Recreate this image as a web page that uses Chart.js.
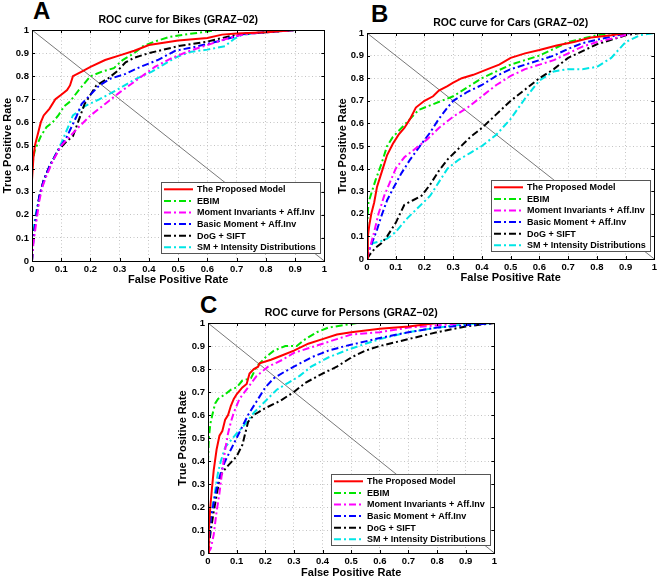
<!DOCTYPE html>
<html>
<head>
<meta charset="utf-8">
<script src="https://cdn.jsdelivr.net/npm/chart.js@4.4.1/dist/chart.umd.min.js"></script>
<style>
  body { margin: 0; background: #fff; width: 660px; height: 580px; position: relative; overflow: hidden;
         font-family: "Liberation Sans", Arial, sans-serif; }
  canvas { position: absolute; }
  .letter { position: absolute; font-weight: bold; font-size: 24px; line-height: 24px; color: #000; }
</style>
</head>
<body>
<div class="letter" style="left:33px; top:-1px">A</div>
<div class="letter" style="left:371px; top:2px">B</div>
<div class="letter" style="left:200px; top:293px">C</div>
<canvas id="bikes" width="330" height="290" style="left:0; top:0"></canvas>
<canvas id="cars" width="330" height="290" style="left:330px; top:0"></canvas>
<canvas id="persons" width="340" height="290" style="left:160px; top:290px"></canvas>
<script>
// legend names, same order in every panel
const seriesNames = ["The Proposed Model", "EBIM", "Moment Invariants + Aff.Inv",
    "Basic Moment + Aff.Inv", "DoG + SIFT", "SM + Intensity Distributions"];

// chance diagonal drawn in each panel
const chanceLine = [[0, 1], [1, 0]];

// ROC points [FPR, TPR]
const bikesProposed = [[0,0],[0,0.35],[0.005,0.45],[0.01,0.5],[0.02,0.55],[0.03,0.6],[0.04,0.63],[0.06,0.66],[0.08,0.7],[0.1,0.72],[0.12,0.74],[0.13,0.76],[0.14,0.8],[0.17,0.82],[0.2,0.84],[0.25,0.87],[0.3,0.89],[0.35,0.91],[0.4,0.935],[0.45,0.945],[0.5,0.955],[0.6,0.965],[0.65,0.98],[0.7,0.985],[0.8,0.99],[0.9,1],[1,1]];
const bikesEbim = [[0,0],[0,0.4],[0.005,0.45],[0.01,0.48],[0.02,0.51],[0.03,0.54],[0.05,0.58],[0.07,0.6],[0.09,0.63],[0.11,0.67],[0.13,0.69],[0.16,0.74],[0.2,0.8],[0.24,0.82],[0.28,0.835],[0.31,0.87],[0.35,0.9],[0.38,0.93],[0.42,0.95],[0.47,0.97],[0.52,0.98],[0.58,0.99],[0.63,1],[1,1]];
const bikesMoment = [[0,0],[0.005,0.08],[0.015,0.17],[0.025,0.26],[0.035,0.32],[0.05,0.37],[0.07,0.43],[0.1,0.5],[0.13,0.54],[0.16,0.58],[0.2,0.63],[0.25,0.68],[0.3,0.73],[0.36,0.785],[0.42,0.84],[0.48,0.88],[0.54,0.91],[0.6,0.935],[0.66,0.96],[0.7,0.975],[0.75,0.985],[0.8,0.99],[0.9,1],[1,1]];
const bikesBasic = [[0,0],[0.005,0.1],[0.015,0.2],[0.025,0.28],[0.04,0.35],[0.06,0.41],[0.09,0.48],[0.12,0.54],[0.15,0.62],[0.17,0.68],[0.2,0.72],[0.23,0.76],[0.27,0.79],[0.32,0.81],[0.37,0.84],[0.43,0.87],[0.49,0.91],[0.55,0.925],[0.6,0.94],[0.65,0.955],[0.69,0.97],[0.73,0.985],[0.8,0.99],[0.9,1],[1,1]];
const bikesDog = [[0,0],[0.005,0.1],[0.015,0.2],[0.025,0.28],[0.04,0.35],[0.06,0.41],[0.09,0.48],[0.12,0.52],[0.14,0.54],[0.16,0.61],[0.18,0.68],[0.2,0.72],[0.22,0.76],[0.26,0.79],[0.29,0.82],[0.32,0.86],[0.35,0.88],[0.4,0.9],[0.45,0.915],[0.5,0.93],[0.55,0.94],[0.6,0.95],[0.65,0.965],[0.7,0.98],[0.8,0.99],[0.9,1],[1,1]];
const bikesSm = [[0,0],[0.002,0.08],[0.005,0.14],[0.015,0.22],[0.03,0.3],[0.045,0.36],[0.06,0.41],[0.08,0.46],[0.1,0.51],[0.12,0.57],[0.14,0.63],[0.18,0.67],[0.23,0.7],[0.29,0.74],[0.35,0.785],[0.41,0.82],[0.45,0.85],[0.49,0.88],[0.54,0.905],[0.6,0.915],[0.66,0.93],[0.69,0.96],[0.72,0.98],[0.8,0.99],[0.9,1],[1,1]];

const carsProposed = [[0,0],[0.003,0.1],[0.008,0.15],[0.015,0.2],[0.025,0.25],[0.035,0.32],[0.045,0.36],[0.055,0.4],[0.07,0.46],[0.09,0.51],[0.11,0.55],[0.13,0.58],[0.15,0.62],[0.17,0.67],[0.2,0.7],[0.23,0.72],[0.25,0.745],[0.28,0.765],[0.3,0.78],[0.33,0.8],[0.37,0.815],[0.42,0.84],[0.46,0.86],[0.5,0.89],[0.55,0.91],[0.6,0.925],[0.66,0.945],[0.72,0.96],[0.78,0.98],[0.85,0.99],[0.9,1],[1,1]];
const carsEbim = [[0,0],[0,0.14],[0.005,0.25],[0.015,0.29],[0.03,0.35],[0.05,0.42],[0.07,0.5],[0.09,0.54],[0.12,0.58],[0.15,0.62],[0.18,0.66],[0.22,0.68],[0.26,0.7],[0.3,0.72],[0.35,0.76],[0.4,0.8],[0.45,0.83],[0.5,0.86],[0.55,0.88],[0.6,0.9],[0.65,0.93],[0.7,0.96],[0.75,0.975],[0.8,0.99],[0.85,1],[1,1]];
const carsMoment = [[0,0],[0.01,0.05],[0.025,0.12],[0.04,0.2],[0.06,0.28],[0.08,0.34],[0.1,0.4],[0.13,0.45],[0.17,0.49],[0.21,0.53],[0.25,0.58],[0.3,0.63],[0.35,0.67],[0.4,0.72],[0.45,0.77],[0.5,0.81],[0.55,0.84],[0.6,0.86],[0.65,0.88],[0.7,0.91],[0.75,0.94],[0.8,0.96],[0.87,0.98],[0.92,1],[1,1]];
const carsBasic = [[0,0],[0.005,0.03],[0.02,0.08],[0.035,0.13],[0.05,0.19],[0.07,0.26],[0.09,0.31],[0.12,0.38],[0.15,0.44],[0.19,0.51],[0.22,0.56],[0.25,0.62],[0.28,0.67],[0.3,0.7],[0.35,0.74],[0.4,0.77],[0.45,0.81],[0.5,0.84],[0.55,0.86],[0.6,0.88],[0.65,0.9],[0.7,0.93],[0.75,0.955],[0.8,0.97],[0.87,0.99],[0.92,1],[1,1]];
const carsDog = [[0,0],[0.01,0.02],[0.03,0.05],[0.05,0.07],[0.07,0.1],[0.1,0.16],[0.13,0.24],[0.16,0.26],[0.19,0.28],[0.22,0.33],[0.25,0.39],[0.28,0.44],[0.32,0.49],[0.36,0.54],[0.4,0.58],[0.45,0.64],[0.5,0.7],[0.55,0.75],[0.6,0.8],[0.65,0.84],[0.7,0.89],[0.75,0.92],[0.8,0.95],[0.85,0.97],[0.9,0.99],[0.95,1],[1,1]];
const carsSm = [[0,0],[0.005,0.04],[0.02,0.07],[0.05,0.08],[0.07,0.09],[0.1,0.12],[0.14,0.18],[0.18,0.23],[0.22,0.28],[0.25,0.34],[0.28,0.4],[0.32,0.44],[0.36,0.47],[0.4,0.5],[0.45,0.55],[0.5,0.62],[0.55,0.71],[0.6,0.79],[0.65,0.83],[0.7,0.84],[0.75,0.84],[0.8,0.85],[0.85,0.89],[0.9,0.96],[0.95,0.99],[1,1]];

const personsProposed = [[0,0],[0.003,0.1],[0.008,0.2],[0.013,0.27],[0.02,0.36],[0.03,0.45],[0.04,0.51],[0.05,0.53],[0.06,0.58],[0.07,0.6],[0.08,0.64],[0.09,0.67],[0.1,0.69],[0.12,0.72],[0.135,0.735],[0.145,0.78],[0.16,0.8],[0.175,0.81],[0.18,0.825],[0.22,0.84],[0.26,0.86],[0.3,0.88],[0.35,0.91],[0.4,0.93],[0.45,0.95],[0.5,0.96],[0.6,0.975],[0.7,0.985],[0.8,1],[1,1]];
const personsEbim = [[0,0],[0,0.4],[0.003,0.5],[0.008,0.56],[0.015,0.6],[0.025,0.65],[0.035,0.67],[0.06,0.69],[0.08,0.71],[0.1,0.72],[0.12,0.75],[0.15,0.76],[0.17,0.81],[0.2,0.85],[0.23,0.88],[0.27,0.9],[0.31,0.9],[0.34,0.93],[0.38,0.96],[0.42,0.98],[0.47,0.99],[0.52,1],[1,1]];
const personsMoment = [[0,0],[0.01,0.02],[0.02,0.08],[0.03,0.18],[0.04,0.26],[0.05,0.36],[0.06,0.45],[0.07,0.52],[0.08,0.57],[0.09,0.61],[0.11,0.67],[0.14,0.72],[0.17,0.77],[0.21,0.81],[0.26,0.84],[0.3,0.87],[0.35,0.89],[0.4,0.91],[0.45,0.93],[0.5,0.95],[0.6,0.96],[0.7,0.98],[0.8,0.99],[0.9,1],[1,1]];
const personsBasic = [[0,0],[0.005,0.08],[0.01,0.15],[0.02,0.22],[0.03,0.28],[0.045,0.35],[0.06,0.4],[0.08,0.45],[0.1,0.5],[0.12,0.55],[0.14,0.6],[0.17,0.66],[0.2,0.72],[0.23,0.76],[0.27,0.79],[0.3,0.81],[0.36,0.85],[0.42,0.88],[0.48,0.9],[0.55,0.92],[0.6,0.935],[0.7,0.96],[0.8,0.98],[0.9,0.99],[1,1]];
const personsDog = [[0,0],[0.005,0.05],[0.01,0.1],[0.02,0.18],[0.03,0.25],[0.04,0.32],[0.05,0.35],[0.07,0.38],[0.1,0.42],[0.12,0.47],[0.13,0.52],[0.14,0.57],[0.16,0.6],[0.2,0.63],[0.25,0.66],[0.3,0.7],[0.34,0.74],[0.4,0.78],[0.45,0.81],[0.5,0.85],[0.55,0.88],[0.6,0.9],[0.7,0.93],[0.8,0.96],[0.9,0.985],[1,1]];
const personsSm = [[0,0],[0.003,0.08],[0.008,0.14],[0.015,0.2],[0.025,0.27],[0.035,0.35],[0.045,0.4],[0.06,0.46],[0.08,0.49],[0.1,0.52],[0.13,0.56],[0.16,0.61],[0.2,0.66],[0.24,0.71],[0.28,0.74],[0.32,0.77],[0.36,0.81],[0.42,0.85],[0.48,0.88],[0.55,0.91],[0.6,0.93],[0.7,0.96],[0.8,0.98],[0.9,0.995],[1,1]];

// matlab-ish line styles
const lineColors = ["#ff0000", "#00e600", "#ff00ff", "#0000ff", "#000000", "#00e6e6"];
const dashDot = [7, 3, 2, 3];
const FONT = '"Liberation Sans", Arial, sans-serif';

Chart.defaults.font.family = FONT;
Chart.defaults.font.weight = "bold";
Chart.defaults.color = "#000";

const toXY = (pts) => pts.map((p) => ({ x: p[0], y: p[1] }));

// black box round the plot area with inward ticks on all four sides
const boxFrame = {
    id: "boxFrame",
    afterDraw(chart) {
        const { ctx, chartArea: a, scales } = chart;
        ctx.save();
        ctx.strokeStyle = "#000";
        ctx.lineWidth = 1;
        ctx.strokeRect(Math.round(a.left) + 0.5, Math.round(a.top) + 0.5,
            Math.round(a.right - a.left), Math.round(a.bottom - a.top));
        ctx.beginPath();
        scales.x.ticks.forEach((t) => {
            const px = Math.round(scales.x.getPixelForValue(t.value)) + 0.5;
            ctx.moveTo(px, a.bottom); ctx.lineTo(px, a.bottom - 3);
            ctx.moveTo(px, a.top); ctx.lineTo(px, a.top + 3);
        });
        scales.y.ticks.forEach((t) => {
            const py = Math.round(scales.y.getPixelForValue(t.value)) + 0.5;
            ctx.moveTo(a.left, py); ctx.lineTo(a.left + 3, py);
            ctx.moveTo(a.right, py); ctx.lineTo(a.right - 3, py);
        });
        ctx.stroke();
        ctx.restore();
    },
};

// legend box in the lower right corner of the plot
const insetLegend = {
    id: "insetLegend",
    afterDatasetsDraw(chart) {
        const { ctx, chartArea: a } = chart;
        const items = chart.data.datasets.filter((d) => !d.chance);
        ctx.save();
        ctx.font = "bold 9px " + FONT;
        const textW = Math.max(...items.map((d) => ctx.measureText(d.label).width));
        const rowH = 11.6;
        const w = Math.round(36 + textW + 4);
        const h = Math.round(rowH * items.length + 1);
        const right = Math.round(a.right - 4);
        const bottom = Math.round(a.bottom - 8);
        const left = right - w;
        const top = bottom - h;
        ctx.fillStyle = "#fff";
        ctx.fillRect(left, top, w, h);
        ctx.strokeStyle = "#555";
        ctx.lineWidth = 1;
        ctx.strokeRect(left + 0.5, top + 0.5, w, h);
        ctx.textBaseline = "middle";
        items.forEach((d, i) => {
            const y = top + 1.5 + rowH * (i + 0.5);
            ctx.strokeStyle = d.borderColor;
            ctx.lineWidth = d.borderWidth;
            ctx.setLineDash(d.borderDash || []);
            ctx.beginPath();
            ctx.moveTo(left + 3, y);
            ctx.lineTo(left + 32, y);
            ctx.stroke();
            ctx.setLineDash([]);
            ctx.fillStyle = "#000";
            ctx.fillText(d.label, left + 36, y + 0.5);
        });
        ctx.restore();
    },
};

function makeChart(id, titleText, curves, f) {
    const datasets = curves.map((pts, i) => ({
        label: seriesNames[i],
        data: toXY(pts),
        borderColor: lineColors[i],
        borderWidth: 2,
        borderDash: i === 0 ? [] : dashDot,
        pointRadius: 0,
        tension: 0,
        fill: false,
    }));
    datasets.push({
        label: "",
        chance: true,
        data: toXY(chanceLine),
        borderColor: "#555",
        borderWidth: 0.8,
        pointRadius: 0,
        fill: false,
    });

    const tickFmt = (v) => String(Math.round(v * 10) / 10);
    const axis = (titleText, titlePad, fit) => ({
        type: "linear",
        min: 0,
        max: 1,
        grid: { color: "#c4c4c4", drawTicks: false, lineWidth: 1 },
        border: { display: false, dash: [1, 2.5] },
        ticks: {
            stepSize: 0.1,
            autoSkip: false,
            maxRotation: 0,
            minRotation: 0,
            padding: 3,
            font: { size: 9.5, weight: "bold" },
            callback: tickFmt,
        },
        title: { display: true, text: titleText, font: { size: 11, weight: "bold" }, padding: titlePad },
        afterFit: fit,
    });

    return new Chart(document.getElementById(id), {
        type: "line",
        data: { datasets },
        options: {
            responsive: false,
            animation: false,
            layout: { padding: { left: 0, right: f.padRight, top: 0, bottom: 0 } },
            plugins: {
                legend: { display: false },
                tooltip: { enabled: false },
                title: {
                    display: true,
                    fullSize: false,
                    text: titleText,
                    font: { size: 10.5, weight: "bold" },
                    padding: { top: f.titleTop, bottom: f.titleBottom },
                },
            },
            scales: {
                x: axis("False Positive Rate", { top: 0, bottom: f.xTitlePad }, (s) => { s.height = f.xHeight; }),
                y: axis("True Positive Rate", { top: f.yTitlePad, bottom: 0 }, (s) => { s.width = f.yWidth; }),
            },
        },
        plugins: [insetLegend, boxFrame],
    });
}

makeChart("bikes", "ROC curve for Bikes (GRAZ\u221202)",
    [bikesProposed, bikesEbim, bikesMoment, bikesBasic, bikesDog, bikesSm],
    { yWidth: 32, yTitlePad: 1.4, titleTop: 13.7, titleBottom: 3.7, xHeight: 29, xTitlePad: 3.4, padRight: 5 });

makeChart("cars", "ROC curve for Cars (GRAZ\u221202)",
    [carsProposed, carsEbim, carsMoment, carsBasic, carsDog, carsSm],
    { yWidth: 37, yTitlePad: 6.4, titleTop: 16.7, titleBottom: 3.7, xHeight: 31, xTitlePad: 5.4, padRight: 5 });

makeChart("persons", "ROC curve for Persons (GRAZ\u221202)",
    [personsProposed, personsEbim, personsMoment, personsBasic, personsDog, personsSm],
    { yWidth: 48, yTitlePad: 16.7, titleTop: 17, titleBottom: 3.4, xHeight: 27, xTitlePad: 0.4, padRight: 2 });
</script>
</body>
</html>
